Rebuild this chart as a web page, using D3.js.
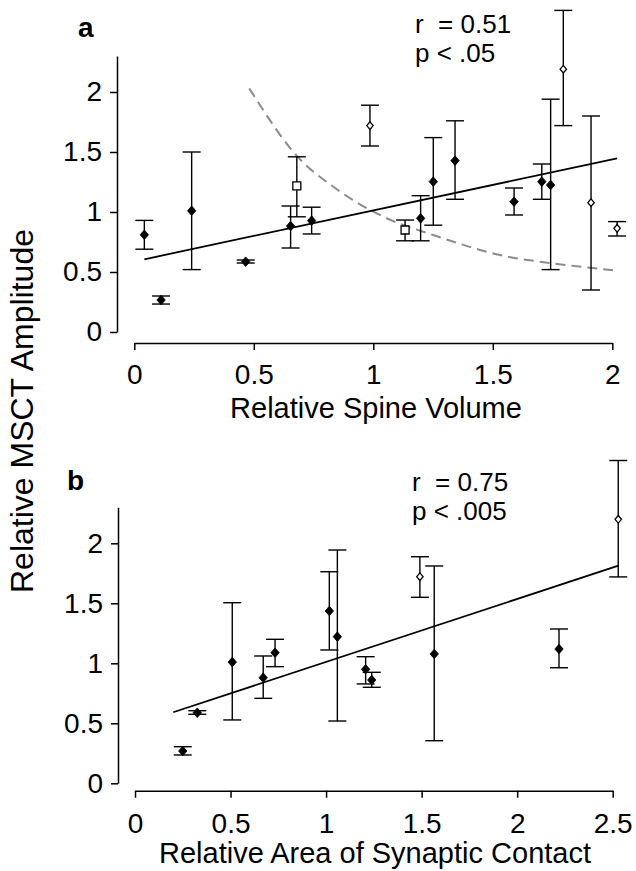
<!DOCTYPE html>
<html lang="en">
<head>
<meta charset="UTF-8">
<title>MSCT amplitude vs spine volume / synaptic area</title>
<style>
    body { margin: 0; background: #fff; }
    svg { font-family: "Liberation Sans", Arial, sans-serif; }
    .axis path, .axis line { stroke: #000; stroke-width: 1.5; }
    .axis text { font-size: 28px; fill: #000; font-family: "Liberation Sans", Arial, sans-serif; }
    .err { stroke: #000; stroke-width: 1.4; fill: none; }
    .fit { stroke: #000; stroke-width: 1.8; fill: none; }
    .pred { stroke: #8c8c8c; stroke-width: 2; stroke-dasharray: 10,6; fill: none; }
    .stat { font-size: 26px; fill: #000; }
    .lbl { font-size: 29px; fill: #000; }
</style>
</head>
<body>
<svg id="chart" width="636" height="871"></svg>
<script src="https://cdn.jsdelivr.net/npm/d3@7"></script>
<script>
// panel a: relative spine volume
let volX    = [0.042, 0.112, 0.24, 0.466, 0.654, 0.68, 0.742, 0.986, 1.133, 1.198, 1.251, 1.342, 1.589, 1.705, 1.742, 1.795, 1.911, 2.02]
let volY    = [0.81, 0.267, 1.01, 0.586, 0.883, 1.217, 0.928, 1.72, 0.85, 0.947, 1.253, 1.428, 1.086, 1.253, 1.225, 2.19, 1.078, 0.864]
let volHi   = [0.93, 0.30, 1.50, 0.60, 1.05, 1.46, 1.04, 1.89, 0.933, 1.136, 1.62, 1.76, 1.20, 1.40, 1.94, 2.68, 1.80, 0.92]
let volLo   = [0.69, 0.233, 0.52, 0.575, 0.70, 0.96, 0.817, 1.55, 0.76, 0.76, 0.89, 1.106, 0.975, 1.106, 0.52, 1.72, 0.35, 0.80]
let volKind = ["f", "f", "f", "f", "f", "s", "f", "o", "s", "f", "f", "f", "f", "f", "f", "o", "o", "o"]
let volFit  = [[0.042, 0.606], [2.02, 1.447]]
let volPred = [[0.481, 2.03], [0.693, 1.44], [0.833, 1.21], [1.042, 0.961], [1.251, 0.808], [1.53, 0.642], [1.809, 0.558], [2.004, 0.515]]

// panel b: relative area of synaptic contact
let areaX    = [0.25, 0.326, 0.509, 0.671, 0.733, 1.017, 1.059, 1.207, 1.239, 1.491, 1.566, 2.219, 2.529]
let areaY    = [0.269, 0.588, 1.01, 0.88, 1.088, 1.436, 1.222, 0.95, 0.861, 1.722, 1.078, 1.119, 2.2]
let areaHi   = [0.305, 0.605, 1.505, 1.061, 1.2, 1.763, 1.944, 1.055, 0.925, 1.888, 1.811, 1.286, 2.69]
let areaLo   = [0.236, 0.575, 0.528, 0.708, 0.972, 1.111, 0.519, 0.828, 0.80, 1.55, 0.355, 0.963, 1.72]
let areaKind = ["f", "f", "f", "f", "f", "f", "f", "f", "f", "o", "f", "f", "o"]
let areaFit  = [[0.2, 0.592], [2.53, 1.814]]

let yTicks = [0, 0.5, 1, 1.5, 2]
let xTicksA = [0, 0.5, 1, 1.5, 2]
let xTicksB = [0, 0.5, 1, 1.5, 2, 2.5]

let svg = d3.select("#chart")

function drawPanel(opt) {
    let g = svg.append("g")
    let xScale = d3.scaleLinear().domain(opt.xDomain).range(opt.xRange)
    let yScale = d3.scaleLinear().domain([0, 2.3]).range(opt.yRange)

    g.append("g").attr("class", "axis")
        .attr("transform", "translate(" + opt.yAxisX + ",0)")
        .call(d3.axisLeft(yScale).tickValues(yTicks).tickSize(7).tickSizeOuter(0)
            .tickPadding(8).tickFormat(d3.format("")))

    g.append("g").attr("class", "axis")
        .attr("transform", "translate(0," + opt.xAxisY + ")")
        .call(d3.axisBottom(xScale).tickValues(opt.xTicks).tickSize(7).tickSizeOuter(0)
            .tickPadding(opt.xPad).tickFormat(d3.format("")))

    let line = d3.line().x(d => xScale(d[0])).y(d => yScale(d[1]))
    if (opt.pred) {
        g.append("path").attr("class", "pred")
            .attr("d", line.curve(d3.curveMonotoneX)(opt.pred))
        line.curve(d3.curveLinear)
    }
    g.append("path").attr("class", "fit").attr("d", line(opt.fit))

    let pts = opt.x.map((v, i) => ({x: v, y: opt.y[i], hi: opt.hi[i], lo: opt.lo[i], kind: opt.kind[i]}))
    let cap = 9

    let bars = g.selectAll(".errbar").data(pts).enter().append("g")
    bars.append("line").attr("class", "err")
        .attr("x1", d => xScale(d.x)).attr("x2", d => xScale(d.x))
        .attr("y1", d => yScale(d.hi)).attr("y2", d => yScale(d.lo))
    bars.append("line").attr("class", "err")
        .attr("x1", d => xScale(d.x) - cap).attr("x2", d => xScale(d.x) + cap)
        .attr("y1", d => yScale(d.hi)).attr("y2", d => yScale(d.hi))
    bars.append("line").attr("class", "err")
        .attr("x1", d => xScale(d.x) - cap).attr("x2", d => xScale(d.x) + cap)
        .attr("y1", d => yScale(d.lo)).attr("y2", d => yScale(d.lo))

    function markerPath(d) {
        let cx = xScale(d.x), cy = yScale(d.y)
        if (d.kind == "s") {
            return "M" + (cx - 4) + "," + (cy - 4) + "h8v8h-8Z"
        }
        let w = d.kind == "f" ? 4.2 : 3.2
        let h = d.kind == "f" ? 4.8 : 3.8
        return "M" + cx + "," + (cy - h) + "L" + (cx + w) + "," + cy +
            "L" + cx + "," + (cy + h) + "L" + (cx - w) + "," + cy + "Z"
    }
    g.selectAll(".mark").data(pts).enter().append("path")
        .attr("d", markerPath)
        .attr("fill", d => d.kind == "f" ? "#000" : "#fff")
        .attr("stroke", "#000")
        .attr("stroke-width", d => d.kind == "f" ? 0.8 : 1.3)

    // panel letter and stats
    svg.append("text").attr("x", opt.letterPos[0]).attr("y", opt.letterPos[1])
        .attr("font-size", 28).attr("font-weight", "bold").text(opt.letter)
    svg.append("text").attr("class", "stat").attr("xml:space", "preserve")
        .attr("x", opt.statPos[0]).attr("y", opt.statPos[1]).text(opt.stat1)
    svg.append("text").attr("class", "stat")
        .attr("x", opt.statPos[0]).attr("y", opt.statPos[1] + 28.5).text(opt.stat2)

    svg.append("text").attr("class", "lbl").attr("text-anchor", "middle")
        .attr("x", opt.xLabelPos[0]).attr("y", opt.xLabelPos[1]).text(opt.xLabel)
}

drawPanel({
    xDomain: [0, 2], xRange: [134.3, 612.3], yRange: [332, 56],
    yAxisX: 117, xAxisY: 343, xTicks: xTicksA, xPad: 14,
    x: volX, y: volY, hi: volHi, lo: volLo, kind: volKind,
    fit: volFit, pred: volPred,
    letter: "a", letterPos: [78, 37],
    stat1: "r  = 0.51", stat2: "p < .05", statPos: [415, 33],
    xLabel: "Relative Spine Volume", xLabelPos: [376, 418]
})

drawPanel({
    xDomain: [0, 2.5], xRange: [135, 612.7], yRange: [783.3, 507.3],
    yAxisX: 118, xAxisY: 790.7, xTicks: xTicksB, xPad: 15,
    x: areaX, y: areaY, hi: areaHi, lo: areaLo, kind: areaKind,
    fit: areaFit, pred: null,
    letter: "b", letterPos: [67, 490],
    stat1: "r  = 0.75", stat2: "p < .005", statPos: [412, 491],
    xLabel: "Relative Area of Synaptic Contact", xLabelPos: [375, 863]
})

svg.append("text").attr("font-size", 32).attr("text-anchor", "middle")
    .attr("transform", "translate(33,411) rotate(-90)")
    .text("Relative MSCT Amplitude")
</script>
</body>
</html>
